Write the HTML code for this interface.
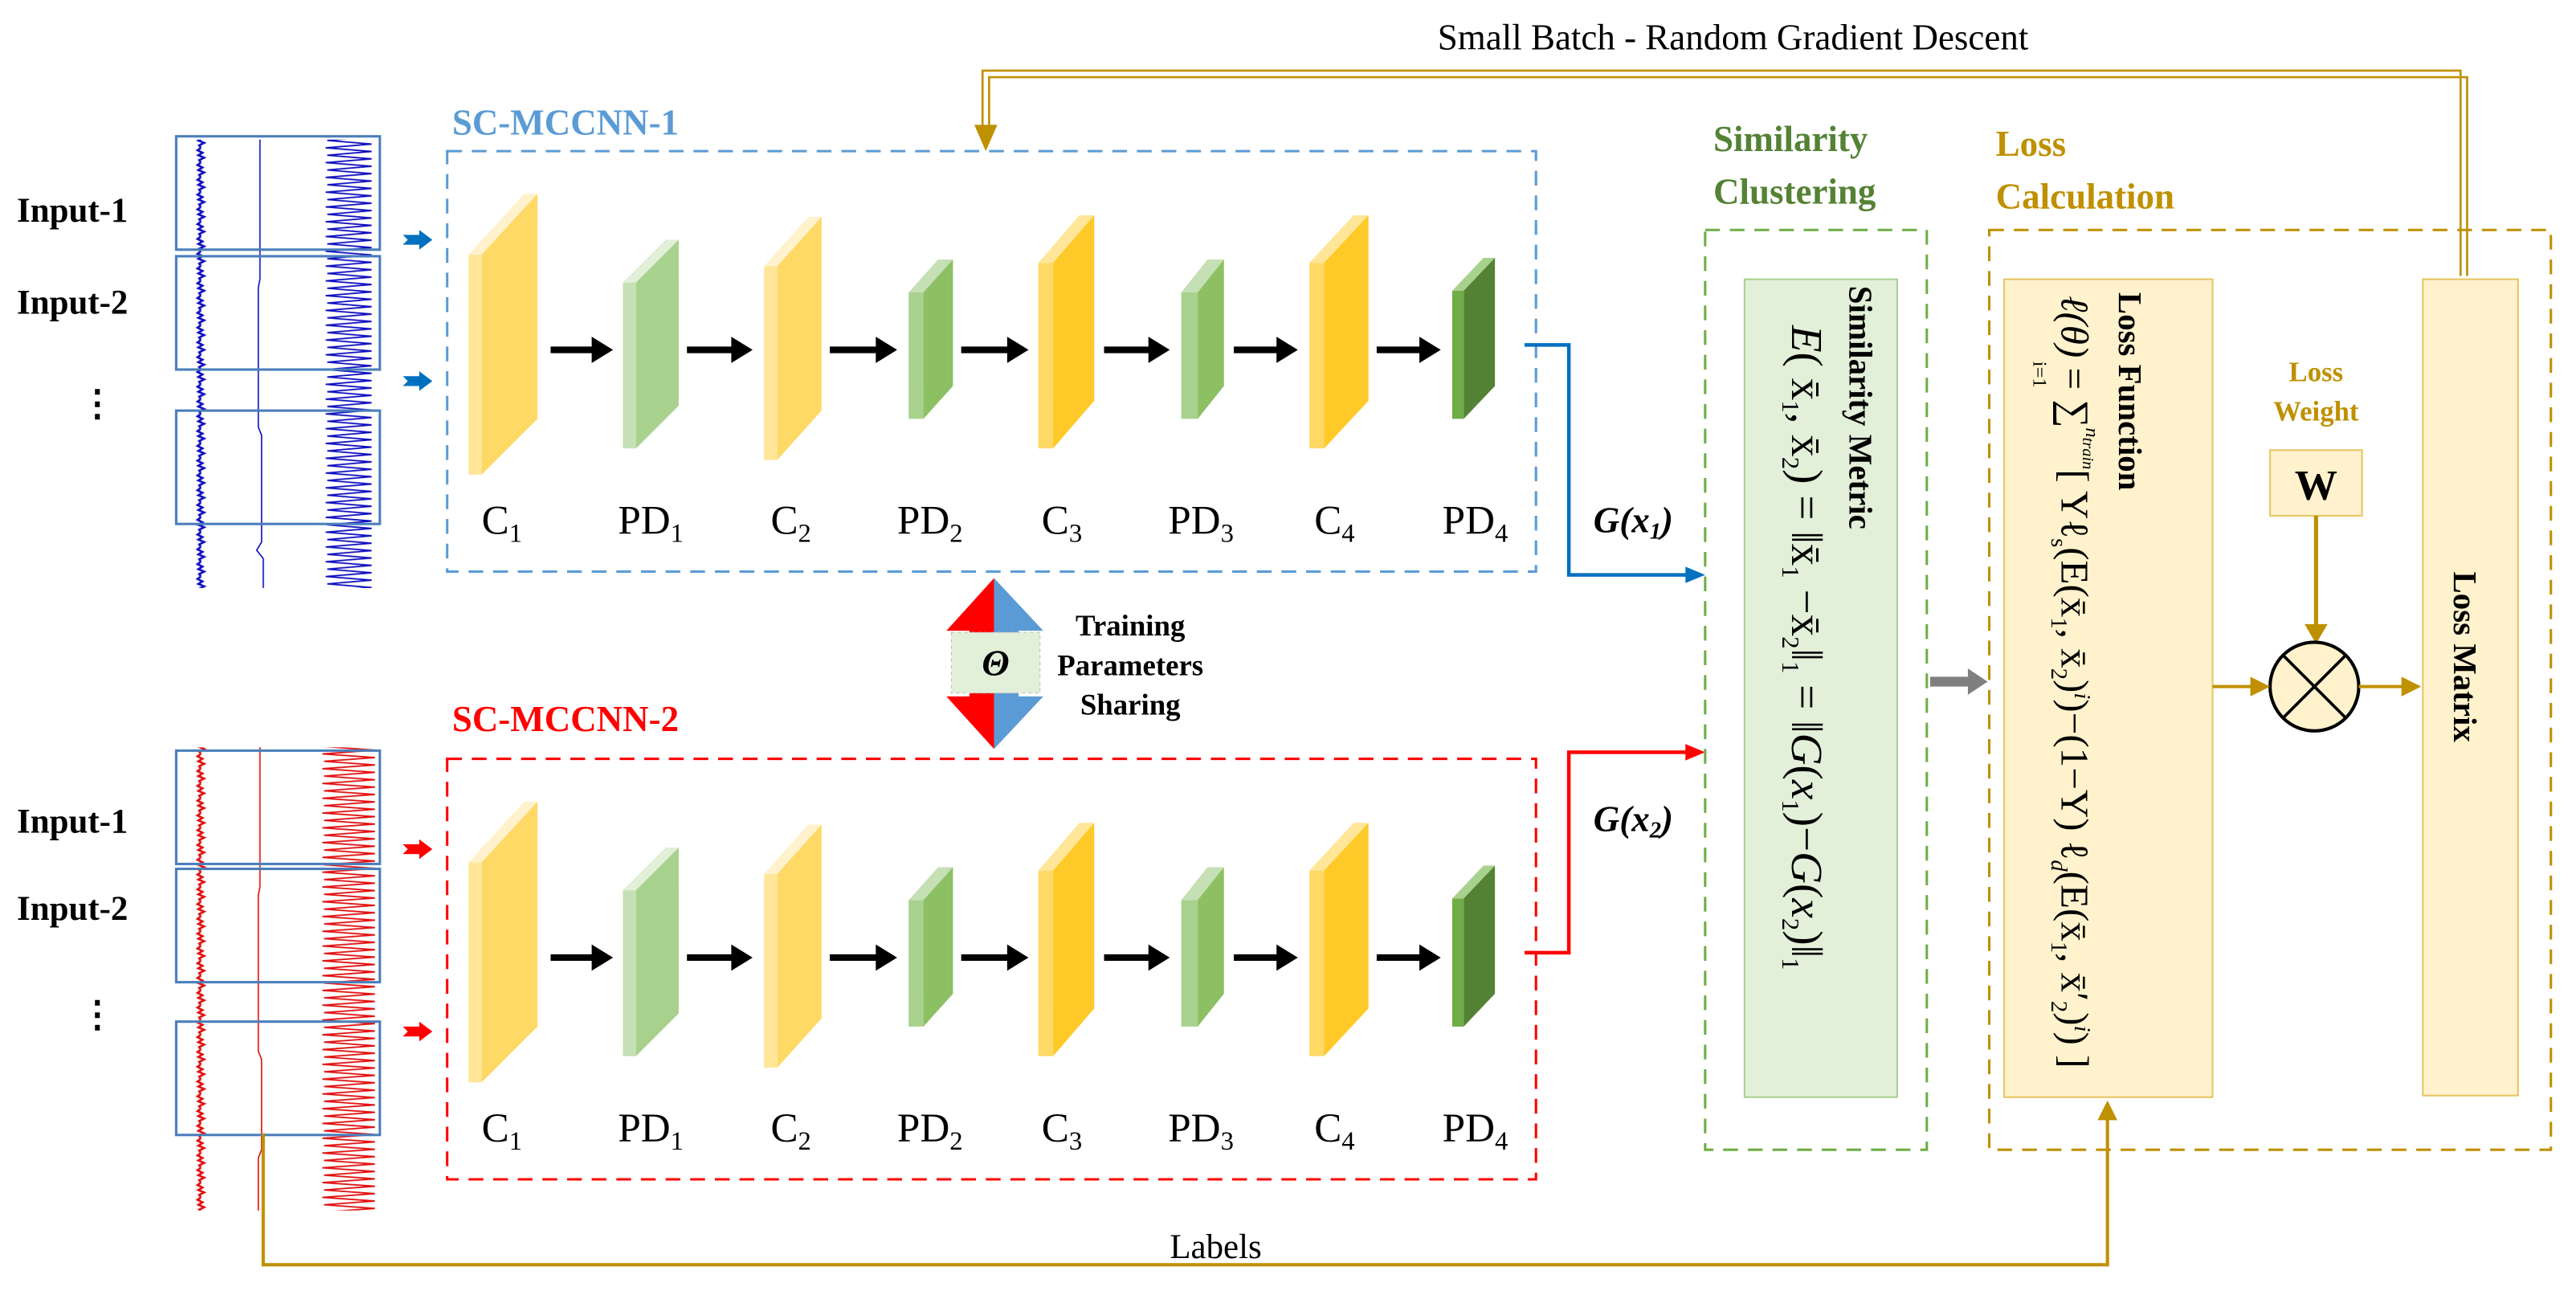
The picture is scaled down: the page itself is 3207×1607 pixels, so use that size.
<!DOCTYPE html>
<html><head><meta charset="utf-8"><style>
html,body{margin:0;padding:0;background:#fff;}
svg{display:block;}
text{font-family:"Liberation Serif",serif;}
</style></head><body>
<svg width="3207" height="1607" viewBox="0 0 1568 786" xmlns="http://www.w3.org/2000/svg">
<defs>
<pattern id="zzb" patternUnits="userSpaceOnUse" width="40" height="9" x="196" y="0">
<path d="M2,0 L30,2.2 L3,4.5 L30,6.7 L2,9" fill="none" stroke="#1010c0" stroke-width="0.9"/>
</pattern>
<pattern id="zzr" patternUnits="userSpaceOnUse" width="40" height="9" x="194" y="0">
<path d="M2,0 L34,2.2 L3,4.5 L34,6.7 L2,9" fill="none" stroke="#e01010" stroke-width="0.9"/>
</pattern>
<pattern id="nb" patternUnits="userSpaceOnUse" width="8" height="9" x="118" y="0">
<path d="M4,0 L2,1.5 L5,3 L2.5,4.5 L6,6 L3,7.5 L4,9" fill="none" stroke="#1010c0" stroke-width="1.3"/>
</pattern>
<pattern id="nr" patternUnits="userSpaceOnUse" width="8" height="9" x="118" y="0">
<path d="M4,0 L2,1.5 L5,3 L2.5,4.5 L6,6 L3,7.5 L4,9" fill="none" stroke="#e01010" stroke-width="1.3"/>
</pattern>
<g id="net">
  <polygon points="285,155 293,155 293,289 285,289" fill="#FFE699"/>
  <polygon points="285,155 293,155 327,118 319,118" fill="#FFF2CC"/>
  <polygon points="293,155 327,118 327,255 293,289" fill="#FFD966"/>
  <polygon points="379,172 387,172 387,273 379,273" fill="#C5E0B4"/>
  <polygon points="379,172 387,172 413,146 405,146" fill="#E2EFD9"/>
  <polygon points="387,172 413,146 413,247 387,273" fill="#A9D18E"/>
  <polygon points="465,162 473,162 473,280 465,280" fill="#FFE699"/>
  <polygon points="465,162 473,162 500,132 492,132" fill="#FFF2CC"/>
  <polygon points="473,162 500,132 500,250 473,280" fill="#FFD966"/>
  <polygon points="553,178 562,178 562,255 553,255" fill="#A9D18E"/>
  <polygon points="553,178 562,178 580,158 571,158" fill="#C5E0B4"/>
  <polygon points="562,178 580,158 580,235 562,255" fill="#8CC063"/>
  <polygon points="632,160 641,160 641,273 632,273" fill="#FFD966"/>
  <polygon points="632,160 641,160 666,131 657,131" fill="#FFE699"/>
  <polygon points="641,160 666,131 666,244 641,273" fill="#FFC928"/>
  <polygon points="719,178 729,178 729,255 719,255" fill="#A9D18E"/>
  <polygon points="719,178 729,178 745,158 735,158" fill="#C5E0B4"/>
  <polygon points="729,178 745,158 745,235 729,255" fill="#8CC063"/>
  <polygon points="797,160 806,160 806,273 797,273" fill="#FFD966"/>
  <polygon points="797,160 806,160 833,131 824,131" fill="#FFE699"/>
  <polygon points="806,160 833,131 833,244 806,273" fill="#FFC928"/>
  <polygon points="884,177 891,177 891,255 884,255" fill="#70AD47"/>
  <polygon points="884,177 891,177 910,157 903,157" fill="#A9D18E"/>
  <polygon points="891,177 910,157 910,235 891,255" fill="#548235"/>
  <g stroke="#000" stroke-width="4" fill="none">
    <path d="M335,213 H362"/><path d="M418,213 H447"/><path d="M505,213 H535"/><path d="M585,213 H615"/><path d="M672,213 H701"/><path d="M751,213 H779"/><path d="M838,213 H866"/>
  </g>
  <g fill="#000">
    <path d="M360,205 L373,213 L360,221Z"/><path d="M445,205 L458,213 L445,221Z"/><path d="M533,205 L546,213 L533,221Z"/><path d="M613,205 L626,213 L613,221Z"/><path d="M699,205 L712,213 L699,221Z"/><path d="M777,205 L790,213 L777,221Z"/><path d="M864,205 L877,213 L864,221Z"/>
  </g>
  <g font-size="25" fill="#000">
    <text x="293" y="325">C<tspan font-size="16" dy="5">1</tspan></text>
    <text x="376" y="325">PD<tspan font-size="16" dy="5">1</tspan></text>
    <text x="469" y="325">C<tspan font-size="16" dy="5">2</tspan></text>
    <text x="546" y="325">PD<tspan font-size="16" dy="5">2</tspan></text>
    <text x="634" y="325">C<tspan font-size="16" dy="5">3</tspan></text>
    <text x="711" y="325">PD<tspan font-size="16" dy="5">3</tspan></text>
    <text x="800" y="325">C<tspan font-size="16" dy="5">4</tspan></text>
    <text x="878" y="325">PD<tspan font-size="16" dy="5">4</tspan></text>
  </g>
</g>
</defs>

<text x="1055" y="30" font-size="22" text-anchor="middle" fill="#000">Small Batch - Random Gradient Descent</text>
<g fill="none" stroke="#bf9000" stroke-width="1.3">
  <path d="M1498,168 V43 H598 V78"/>
  <path d="M1502,168 V47 H602 V78"/>
</g>
<path d="M593,76 L607,76 L600,92 Z" fill="#bf9000"/>

<text x="275" y="82" font-size="22" font-weight="bold" fill="#5b9bd5">SC-MCCNN-1</text>
<rect x="272" y="92" width="663" height="256" fill="none" stroke="#5b9bd5" stroke-width="1.5" stroke-dasharray="9,6"/>
<use href="#net"/>
<text x="275" y="445" font-size="22" font-weight="bold" fill="#ff0000">SC-MCCNN-2</text>
<rect x="272" y="462" width="663" height="256" fill="none" stroke="#ff0000" stroke-width="1.5" stroke-dasharray="9,6"/>
<use href="#net" transform="translate(0,370)"/>

<g font-size="21" font-weight="bold" fill="#000">
  <text x="10" y="135">Input-1</text>
  <text x="10" y="191">Input-2</text>
  <text x="48" y="253" font-size="22">⋮</text>
  <text x="10" y="507">Input-1</text>
  <text x="10" y="560">Input-2</text>
  <text x="48" y="625" font-size="22">⋮</text>
</g>
<rect x="118" y="85" width="8" height="273" fill="url(#nb)"/>
<path d="M158,85 V170 L157,175 V260 L159,265 V330 L156,335 L160,340 V358" stroke="#1010c0" stroke-width="0.8" fill="none"/>
<rect x="196" y="85" width="34" height="273" fill="url(#zzb)"/>
<g fill="none" stroke="#4a7ebb" stroke-width="1.5">
  <rect x="107" y="83" width="124" height="69"/>
  <rect x="107" y="156" width="124" height="69"/>
  <rect x="107" y="250" width="124" height="69"/>
</g>
<rect x="118" y="455" width="8" height="282" fill="url(#nr)"/>
<path d="M158,455 V540 L157,545 V640 L159,645 V700 L157,705 V737" stroke="#e01010" stroke-width="0.8" fill="none"/>
<rect x="194" y="455" width="36" height="282" fill="url(#zzr)"/>
<g fill="none" stroke="#4a7ebb" stroke-width="1.5">
  <rect x="107" y="457" width="124" height="69"/>
  <rect x="107" y="529" width="124" height="69"/>
  <rect x="107" y="622" width="124" height="69"/>
</g>
<g fill="#0070c0"><path d="M245,143 H255 V140 L263,146 L255,152 V149 H245 L248,146Z"/><path d="M245,229 H255 V226 L263,232 L255,238 V235 H245 L248,232Z"/></g>
<g fill="#ff0000"><path d="M245,514 H255 V511 L263,517 L255,523 V520 H245 L248,517Z"/><path d="M245,625 H255 V622 L263,628 L255,634 V631 H245 L248,628Z"/></g>

<path d="M928,210 H955 V350 H1028" fill="none" stroke="#0070c0" stroke-width="2.2"/>
<path d="M1026,345 L1038,350 L1026,355Z" fill="#0070c0"/>
<path d="M928,580 H955 V458 H1028" fill="none" stroke="#ff0000" stroke-width="2.2"/>
<path d="M1026,453 L1038,458 L1026,463Z" fill="#ff0000"/>
<text x="970" y="324" font-size="22" font-weight="bold" font-style="italic">G(x<tspan font-size="14" dy="4">1</tspan><tspan dy="-4">)</tspan></text>
<text x="970" y="506" font-size="22" font-weight="bold" font-style="italic">G(x<tspan font-size="14" dy="4">2</tspan><tspan dy="-4">)</tspan></text>

<path d="M605,352 L576,384 L590,384 L590,424 L576,424 L605,456 Z" fill="#ff0000"/>
<path d="M605,352 L635,384 L620,384 L620,424 L635,424 L605,456 Z" fill="#5b9bd5"/>
<rect x="579" y="385" width="54" height="37" fill="#e2efd9" stroke="#bbb" stroke-width="0.5" stroke-dasharray="2,2"/>
<text x="606" y="411" font-size="22" font-weight="bold" font-style="italic" text-anchor="middle">Θ</text>
<g font-size="18" font-weight="bold" text-anchor="middle">
  <text x="688" y="387">Training</text>
  <text x="688" y="411">Parameters</text>
  <text x="688" y="435">Sharing</text>
</g>

<text x="1043" y="92" font-size="22" font-weight="bold" fill="#548235">Similarity</text>
<text x="1043" y="124" font-size="22" font-weight="bold" fill="#548235">Clustering</text>
<rect x="1038" y="140" width="135" height="560" fill="none" stroke="#70ad47" stroke-width="1.5" stroke-dasharray="9,6"/>
<rect x="1062" y="170" width="93" height="498" fill="#e2efd9" stroke="#a9d18e" stroke-width="1"/>
<text transform="translate(1126,174) rotate(90)" font-size="20" font-weight="bold">Similarity Metric</text>
<text transform="translate(1091,198) rotate(90)" font-size="27"><tspan font-style="italic">E</tspan>( x̄<tspan font-size="15" dy="6">1</tspan><tspan dy="-6">, x̄</tspan><tspan font-size="15" dy="6">2</tspan><tspan dy="-6">)  = ‖x̄</tspan><tspan font-size="15" dy="6">1</tspan><tspan dy="-6"> −x̄</tspan><tspan font-size="15" dy="6">2</tspan><tspan dy="-6">‖</tspan><tspan font-size="15" dy="6">1</tspan><tspan dy="-6"> = ‖</tspan><tspan font-style="italic">G</tspan>(<tspan font-style="italic">x</tspan><tspan font-size="15" dy="6">1</tspan><tspan dy="-6">)−</tspan><tspan font-style="italic">G</tspan>(<tspan font-style="italic">x</tspan><tspan font-size="15" dy="6">2</tspan><tspan dy="-6">)‖</tspan><tspan font-size="15" dy="6">1</tspan></text>
<path d="M1175,412 H1198 V407 L1210,415 L1198,423 V418 H1175Z" fill="#7f7f7f"/>

<text x="1215" y="95" font-size="22" font-weight="bold" fill="#bf9000">Loss</text>
<text x="1215" y="127" font-size="22" font-weight="bold" fill="#bf9000">Calculation</text>
<rect x="1211" y="140" width="342" height="560" fill="none" stroke="#bf9000" stroke-width="1.5" stroke-dasharray="9,6"/>
<rect x="1220" y="170" width="127" height="498" fill="#fff2cc" stroke="#e6c560" stroke-width="1"/>
<text transform="translate(1290,178) rotate(90)" font-size="20" font-weight="bold">Loss Function</text>
<text transform="translate(1255,180) rotate(90)" font-size="24"><tspan font-style="italic">ℓ(θ)</tspan> = ∑<tspan font-size="12" dy="-15" font-style="italic">n</tspan><tspan font-size="10" dy="2" font-style="italic">train</tspan><tspan dy="13">[</tspan> Yℓ<tspan font-size="14" dy="6">s</tspan><tspan dy="-6">(E(x̄</tspan><tspan font-size="14" dy="6">1</tspan><tspan dy="-6">, x̄</tspan><tspan font-size="14" dy="6">2</tspan><tspan dy="-6">)</tspan><tspan font-size="14" dy="-8" font-style="italic">i</tspan><tspan dy="8">)−(1−Y) ℓ</tspan><tspan font-size="14" dy="6" font-style="italic">d</tspan><tspan dy="-6">(E(x̄</tspan><tspan font-size="14" dy="6">1</tspan><tspan dy="-6">, x̄′</tspan><tspan font-size="14" dy="6">2</tspan><tspan dy="-6">)</tspan><tspan font-size="14" dy="-8" font-style="italic">i</tspan><tspan dy="8">) ]</tspan></text>
<text transform="translate(1238,220) rotate(90)" font-size="12">i=1</text>

<text x="1410" y="232" font-size="17" font-weight="bold" fill="#bf9000" text-anchor="middle">Loss</text>
<text x="1410" y="256" font-size="17" font-weight="bold" fill="#bf9000" text-anchor="middle">Weight</text>
<rect x="1382" y="274" width="56" height="40" fill="#fff2cc" stroke="#e6c560" stroke-width="1"/>
<text x="1410" y="304" font-size="26" font-weight="bold" text-anchor="middle">W</text>
<path d="M1410,314 V382" stroke="#bf9000" stroke-width="2.5"/>
<path d="M1403,380 L1410,392 L1417,380Z" fill="#bf9000"/>
<circle cx="1409" cy="418" r="27" fill="#fff2cc" stroke="#000" stroke-width="2"/>
<path d="M1390,399 L1428,437 M1428,399 L1390,437" stroke="#000" stroke-width="1.8"/>
<path d="M1347,418 H1372" stroke="#bf9000" stroke-width="2"/>
<path d="M1370,412 L1382,418 L1370,424Z" fill="#bf9000"/>
<path d="M1436,418 H1464" stroke="#bf9000" stroke-width="2"/>
<path d="M1462,412 L1474,418 L1462,424Z" fill="#bf9000"/>
<rect x="1475" y="170" width="58" height="497" fill="#fff2cc" stroke="#e6c560" stroke-width="1"/>
<text transform="translate(1494,348) rotate(90)" font-size="20" font-weight="bold">Loss Matrix</text>

<path d="M160,690 V770 H1283 V680" fill="none" stroke="#bf9000" stroke-width="2"/>
<path d="M1277,682 L1283,670 L1289,682Z" fill="#bf9000"/>
<text x="740" y="766" font-size="21" text-anchor="middle">Labels</text>
</svg>
</body></html>
